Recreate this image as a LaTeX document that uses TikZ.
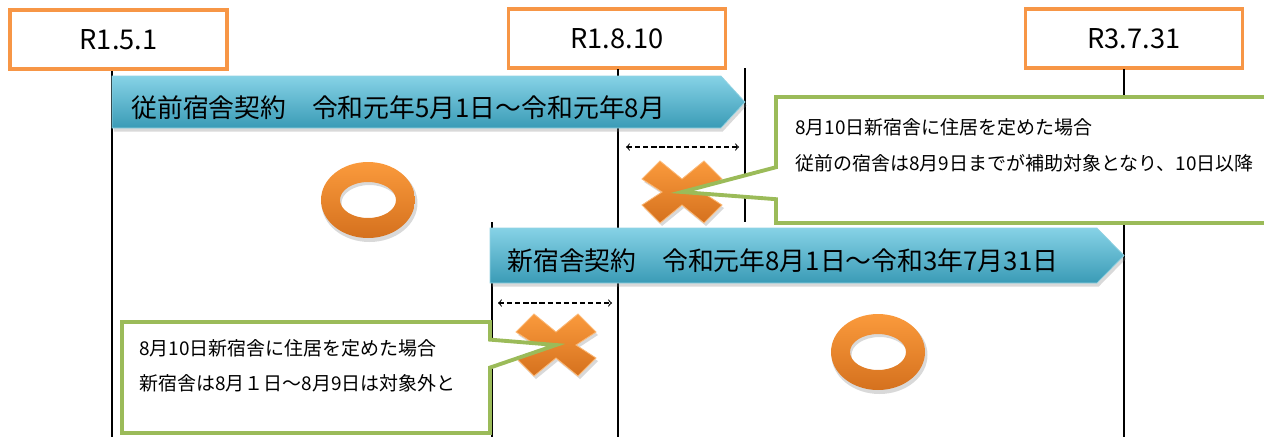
\documentclass[tikz,border=0pt]{standalone}
\usepackage{fontspec}
\setmainfont{Noto Sans CJK JP}
\usetikzlibrary{shapes.callouts,shadows}
\definecolor{boxorange}{HTML}{F79646}
\definecolor{notegreen}{HTML}{9BBB59}
\definecolor{bartop}{HTML}{86D2E6}
\definecolor{barmid}{HTML}{4DB5CF}
\definecolor{barbot}{HTML}{3A9BB6}
\definecolor{marktop}{HTML}{FA9A3C}
\definecolor{markbot}{HTML}{D5711E}
\tikzset{
  datebox/.style={draw=boxorange,line width=2.2pt,fill=white,minimum width=4.34cm,minimum height=1.18cm,inner sep=0pt,font=\fontsize{15.5}{18}\selectfont},
  timeline/.style={line width=1.3pt},
  period/.style={draw=barmid!60!white,line width=0.4pt,top color=bartop,middle color=barmid,bottom color=barbot,drop shadow={opacity=0.3,shadow xshift=1pt,shadow yshift=-2pt}},
  bartext/.style={anchor=west,inner sep=0pt,font=\fontsize{14.7}{17}\selectfont},
  note/.style={rectangle callout,draw=notegreen,line width=2.2pt,fill=white,inner sep=0pt},
  notetext/.style={anchor=west,inner sep=0pt,font=\fontsize{10.8}{13}\selectfont},
  gap/.style={<->,>=to,dash pattern=on 3pt off 1.6pt,line width=0.6pt},
  maru/.pic={
    \fill[black,opacity=0.15,even odd rule]
      (1.5,3) ellipse [x radius=0.96cm,y radius=0.78cm]
      (1.5,3) ellipse [x radius=0.56cm,y radius=0.36cm];
    \shade[top color=marktop,bottom color=markbot,even odd rule]
      (0,0) ellipse [x radius=0.94cm,y radius=0.76cm]
      (0,0) ellipse [x radius=0.56cm,y radius=0.36cm];
  },
  batsu/.pic={
    \fill[black,opacity=0.15]
      (-38,-10) -- (-20,-28) -- (2,-10) -- (24,-28) -- (42,-10) -- (22,3)
      -- (42,16) -- (24,34) -- (2,16) -- (-20,34) -- (-38,16) -- (-18,3) -- cycle;
    \shade[top color=marktop,bottom color=markbot,draw=marktop!70!white,line width=0.5pt]
      (-40,-13) -- (-22,-31) -- (0,-13) -- (22,-31) -- (40,-13) -- (20,0)
      -- (40,13) -- (22,31) -- (0,13) -- (-22,31) -- (-40,13) -- (-20,0) -- cycle;
  }
}
\begin{document}
\begin{tikzpicture}[x=0.02cm,y=-0.02cm]
  \useasboundingbox (0,0) rectangle (1264,437);
  \clip (0,0) rectangle (1264,437);

  % dates
  \node[datebox] (r151) at (118.5,39.5) {R1.5.1};
  \node[datebox] (r1810) at (617,38.5) {R1.8.10};
  \node[datebox] (r3731) at (1134,38.5) {R3.7.31};

  % time lines
  \coordinate (a0) at (112,71);   \coordinate (a1) at (112,437);
  \coordinate (b0) at (618,69);   \coordinate (b1) at (618,437);
  \coordinate (c0) at (745,68);   \coordinate (c1) at (745,222);
  \coordinate (e0) at (1124,69);  \coordinate (e1) at (1124,437);
  \coordinate (f0) at (492,222);  \coordinate (f1) at (492,437);
  \draw[timeline] (a0) -- (a1);
  \draw[timeline] (b0) -- (b1);
  \draw[timeline] (c0) -- (c1);
  \draw[timeline] (e0) -- (e1);
  \draw[timeline] (f0) -- (f1);

  % contract periods
  \path[period] (112,76) -- (721,76) -- (745,102) -- (721,128) -- (112,128) -- cycle;
  \node[bartext] (old) at (131,108) {従前宿舎契約　令和元年5月1日～令和元年8月};
  \path[period] (490,228) -- (1097,228) -- (1124,255.5) -- (1097,283) -- (490,283) -- cycle;
  \node[bartext] (new) at (507,261) {新宿舎契約　令和元年8月1日～令和3年7月31日};

  % overlap days
  \coordinate (g1) at (626,147);  \coordinate (g2) at (739,147);
  \coordinate (h1) at (498,303);  \coordinate (h2) at (612,303);
  \draw[gap] (g1) -- (g2);
  \draw[gap] (h1) -- (h2);

  % marks
  \pic at (368,200) {maru};
  \pic at (878,352) {maru};
  \coordinate (x1) at (682,192);
  \coordinate (x2) at (556,345);
  \pic at (x1) {batsu};
  \pic at (x2) {batsu};

  % notes
  \node[note,minimum width=10cm,minimum height=2.52cm,callout absolute pointer={(x1)},callout pointer width=0.64cm] (note1) at (1026,160) {};
  \node[notetext] (n1a) at (795,127) {8月10日新宿舎に住居を定めた場合};
  \node[notetext] (n1b) at (795,163) {従前の宿舎は8月9日までが補助対象となり、10日以降};
  \node[note,minimum width=7.36cm,minimum height=2.22cm,callout absolute pointer={(x2)},callout pointer width=0.56cm] (note2) at (306,377.5) {};
  \node[notetext] (n2a) at (139,348) {8月10日新宿舎に住居を定めた場合};
  \node[notetext] (n2b) at (139,383) {新宿舎は8月１日～8月9日は対象外と};
\end{tikzpicture}
\end{document}
